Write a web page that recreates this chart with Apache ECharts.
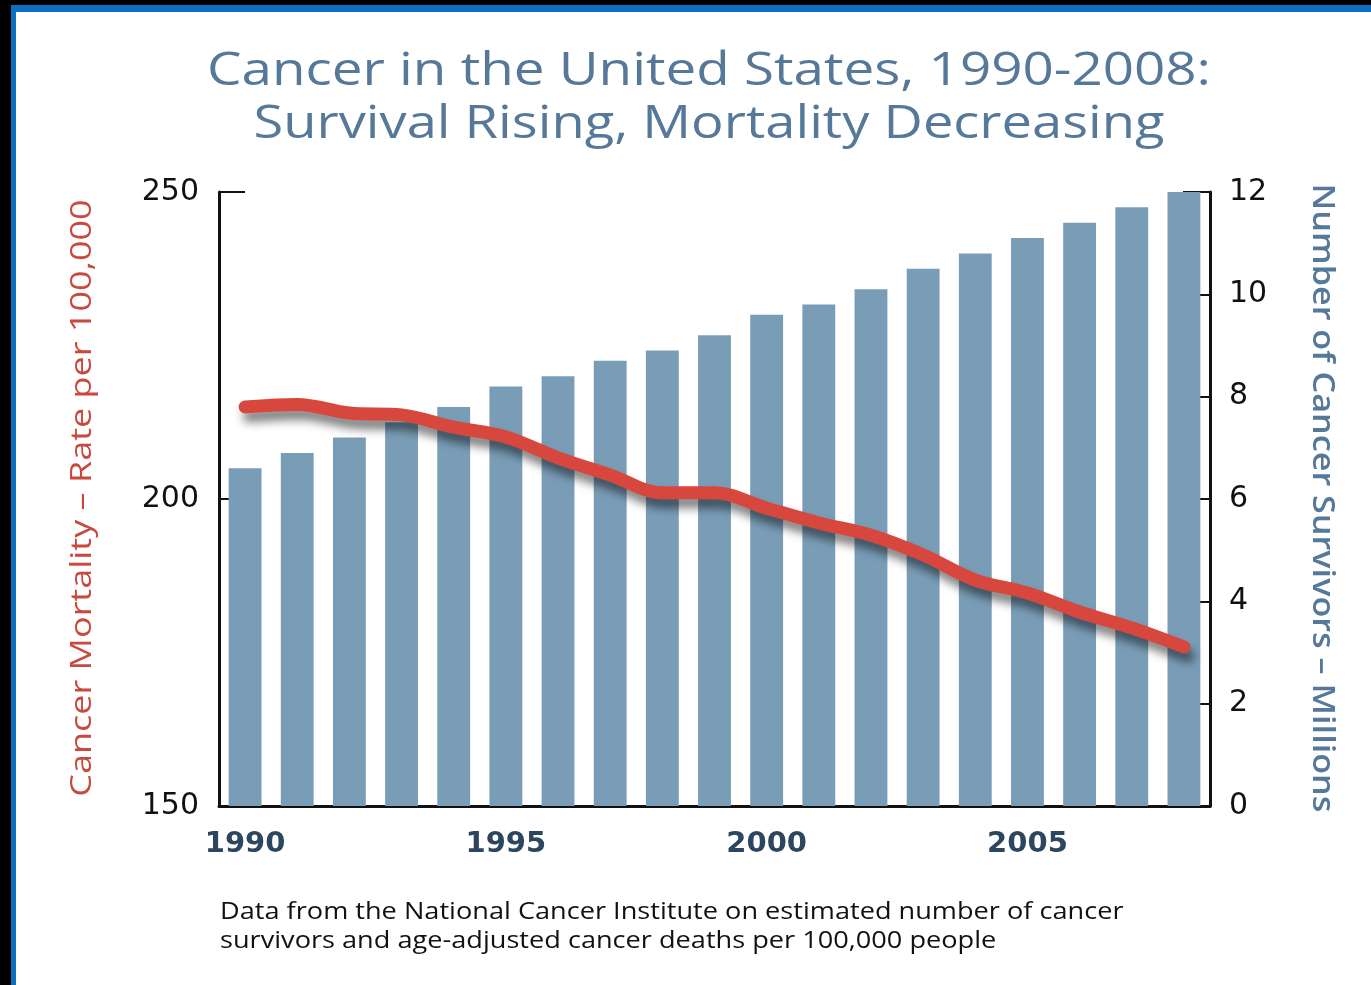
<!DOCTYPE html>
<html>
<head>
<meta charset="utf-8">
<script src="https://cdn.jsdelivr.net/npm/echarts@6/dist/echarts.min.js"></script>
<style>
  html, body { margin: 0; padding: 0; background: #000; width: 1371px; height: 985px; overflow: hidden; }
  #frame { position: absolute; left: 11px; top: 5px; right: 0; bottom: 0;
           background: #fff; border-top: 7px solid #0b6fc2; border-left: 5px solid #0b6fc2; }
  #chart { position: absolute; left: 0; top: 0; width: 1371px; height: 985px; }
</style>
</head>
<body>
<div id="frame"></div>
<div id="chart"></div>
<script>
// Years on the category axis
const years = ['1990','1991','1992','1993','1994','1995','1996','1997','1998','1999',
               '2000','2001','2002','2003','2004','2005','2006','2007','2008'];
// Estimated number of cancer survivors, millions (right axis)
const survivors = [6.6, 6.9, 7.2, 7.5, 7.8, 8.2, 8.4, 8.7, 8.9, 9.2,
                   9.6, 9.8, 10.1, 10.5, 10.8, 11.1, 11.4, 11.7, 12.0];
// Age-adjusted cancer deaths per 100,000 (left axis)
const mortality = [215.0, 215.4, 214.0, 213.7, 211.7, 210.1, 206.7, 203.9, 201.0, 201.0,
                   198.5, 196.1, 194.1, 190.9, 186.8, 184.7, 181.6, 179.0, 175.9];
// Tick ranges
const leftTicks = { min: 150, max: 250, step: 50 };
const rightTicks = { min: 0, max: 12, step: 2 };

const chart = echarts.init(document.getElementById('chart'), null, { renderer: 'canvas' });

const titleColor = '#56799a';
const font = '"Open Sans", "DejaVu Sans", sans-serif';
const tickFont = '"DejaVu Sans", sans-serif';

chart.setOption({
  backgroundColor: 'transparent',
  animation: false,
  grid: { left: 219, right: 161, top: 192, bottom: 179, containLabel: false },
  graphic: [
    { type: 'text', x: 709, y: 49, scaleX: 1.19,
      style: { text: 'Cancer in the United States, 1990-2008:', fill: titleColor,
               font: '46px ' + font, textAlign: 'center' } },
    { type: 'text', x: 709, y: 102, scaleX: 1.18,
      style: { text: 'Survival Rising, Mortality Decreasing', fill: titleColor,
               font: '46px ' + font, textAlign: 'center' } },
    { type: 'text', x: 82, y: 498, rotation: Math.PI / 2, scaleX: 1.2,
      style: { text: 'Cancer Mortality \u2013 Rate per 100,000', fill: '#c9493f',
               font: '500 30px ' + font, textAlign: 'center', textVerticalAlign: 'middle' } },
    { type: 'text', x: 1322, y: 498, rotation: -Math.PI / 2, scaleX: 1.14,
      style: { text: 'Number of Cancer Survivors \u2013 Millions', fill: titleColor,
               font: '600 30px ' + font, textAlign: 'center', textVerticalAlign: 'middle' } },
    { type: 'text', x: 220, y: 898, scaleX: 1.18,
      style: { text: 'Data from the National Cancer Institute on estimated number of cancer\nsurvivors and age-adjusted cancer deaths per 100,000 people',
               fill: '#111', font: '23px ' + font, lineHeight: 29 } }
  ],
  xAxis: {
    type: 'category',
    data: years,
    boundaryGap: true,
    axisLine: { show: true, lineStyle: { color: '#111', width: 3 } },
    axisTick: { show: false },
    axisLabel: { interval: 4, margin: 24, color: '#2c4660', fontWeight: 'bold',
                 fontSize: 29, fontFamily: tickFont }
  },
  yAxis: [
    {
      type: 'value', position: 'left',
      min: leftTicks.min, max: leftTicks.max, interval: leftTicks.step,
      axisLine: { show: true, lineStyle: { color: '#111', width: 3 } },
      axisTick: { show: true, inside: true, length: 26, lineStyle: { color: '#111', width: 2 } },
      axisLabel: { margin: 20, color: '#111', fontSize: 30, fontFamily: tickFont },
      splitLine: { show: false }
    },
    {
      type: 'value', position: 'right',
      min: rightTicks.min, max: rightTicks.max, interval: rightTicks.step,
      axisLine: { show: true, lineStyle: { color: '#111', width: 3 } },
      axisTick: { show: true, inside: true, length: 27, lineStyle: { color: '#111', width: 2 } },
      axisLabel: { margin: 19, color: '#111', fontSize: 30, fontFamily: tickFont },
      splitLine: { show: false }
    }
  ],
  series: [
    {
      name: 'Survivors', type: 'bar', yAxisIndex: 1,
      data: survivors, barWidth: '63%',
      itemStyle: { color: '#7a9db7' }
    },
    {
      name: 'Mortality', type: 'line', yAxisIndex: 0,
      data: mortality, smooth: 0.35, symbol: 'none', z: 5,
      lineStyle: { color: '#d8473d', width: 13, cap: 'round', join: 'round',
                   shadowColor: 'rgba(0,0,0,0.5)', shadowBlur: 10,
                   shadowOffsetX: 4, shadowOffsetY: 9 }
    }
  ]
});
</script>
</body>
</html>
